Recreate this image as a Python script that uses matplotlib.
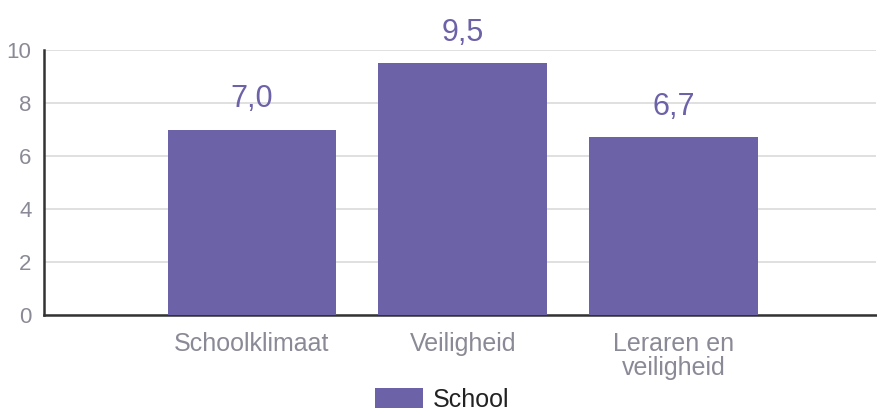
import matplotlib.pyplot as plt

categories = ["Schoolklimaat", "Veiligheid", "Leraren en\nveiligheid"]
values = [7.0, 9.5, 6.7]
series_name = "School"
yticks = [0, 2, 4, 6, 8, 10]

plt.rcParams['font.family'] = ['Liberation Sans', 'DejaVu Sans']

bar_color = "#6c62a8"
gray = "#8a8a96"

fig = plt.figure(figsize=(8.77, 4.12), dpi=100)
ax = fig.add_axes([44 / 877, 1 - 315 / 412, (876 - 44) / 877, (315 - 50) / 412])

x = list(range(len(categories)))
bars = ax.bar(x, values, width=0.8, color=bar_color, label=series_name, zorder=3)

# value labels above the bars, comma as decimal separator
for xi, v in zip(x, values):
    ax.text(xi, v + 1.15, f"{v:.1f}".replace(".", ","), ha="center", va="center",
            fontsize=22, color=bar_color)

ax.set_xlim(-0.986, 2.96)
ax.set_ylim(0, 10)
ax.set_yticks(yticks)
ax.set_yticklabels([str(t) for t in yticks], fontsize=16, color=gray)
ax.set_xticks(x)
ax.set_xticklabels(categories, fontsize=18, color=gray, linespacing=1.0)
ax.tick_params(axis="both", length=0)
ax.tick_params(axis="y", pad=9)
ax.tick_params(axis="x", pad=12)

ax.yaxis.grid(True, color="#dddddd", linewidth=1.3, zorder=0)
ax.set_axisbelow(True)
for side in ["top", "right"]:
    ax.spines[side].set_visible(False)
for side in ["left", "bottom"]:
    ax.spines[side].set_color("#333333")
    ax.spines[side].set_linewidth(1.8)

fig.legend(handles=[bars], labels=[series_name], loc="center", bbox_to_anchor=(0.504, 1 - 400 / 412),
           frameon=False, fontsize=18, handlelength=1.9, handleheight=0.85, handletextpad=0.4,
           labelcolor="#222222")

fig.savefig("out.png", dpi=100)
